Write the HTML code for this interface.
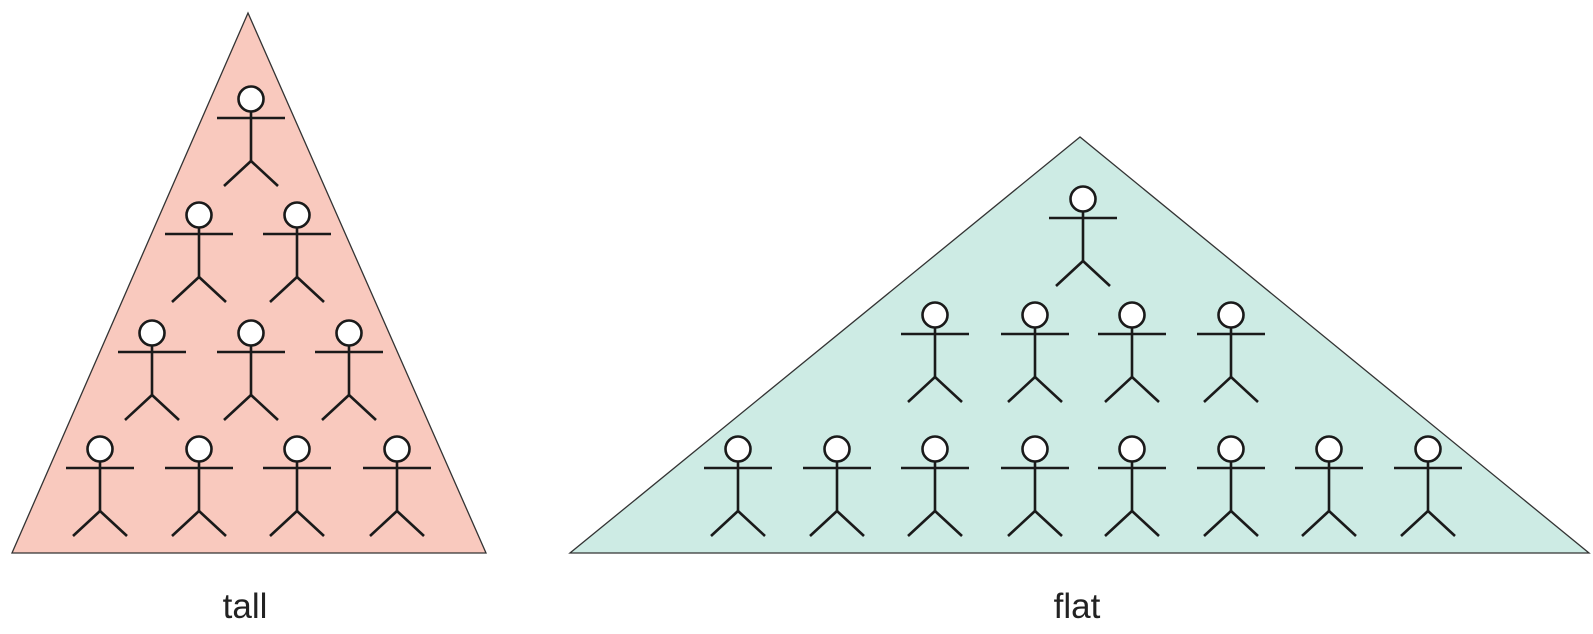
<!DOCTYPE html>
<html><head><meta charset="utf-8"><style>
html,body{margin:0;padding:0;background:#fff;}
svg{display:block;}
text{font-family:"Liberation Sans","DejaVu Sans",sans-serif;font-size:35px;fill:#222;}
</style></head><body>
<svg width="1593" height="634" viewBox="0 0 1593 634" xmlns="http://www.w3.org/2000/svg">
<defs>
<g id="p" stroke="#1a1a1a" stroke-width="2.6" fill="none">
<circle cx="0" cy="0" r="12.5" fill="#fff"/>
<line x1="-34" y1="19" x2="34" y2="19"/>
<line x1="0" y1="12.5" x2="0" y2="62"/>
<line x1="0" y1="62" x2="-27" y2="87"/>
<line x1="0" y1="62" x2="27" y2="87"/>
</g>
</defs>
<polygon points="248,13 12,553 486,553" fill="#f9c9be" stroke="#333" stroke-width="1.3"/>
<polygon points="1080,137 570,553 1589,553" fill="#cdebe4" stroke="#333" stroke-width="1.3"/>
<use href="#p" x="251" y="99"/>
<use href="#p" x="199" y="215"/><use href="#p" x="297" y="215"/>
<use href="#p" x="152" y="333"/><use href="#p" x="251" y="333"/><use href="#p" x="349" y="333"/>
<use href="#p" x="100" y="449"/><use href="#p" x="199" y="449"/><use href="#p" x="297" y="449"/><use href="#p" x="397" y="449"/>
<use href="#p" x="1083" y="199"/>
<use href="#p" x="935" y="315"/><use href="#p" x="1035" y="315"/><use href="#p" x="1132" y="315"/><use href="#p" x="1231" y="315"/>
<use href="#p" x="738" y="449"/><use href="#p" x="837" y="449"/><use href="#p" x="935" y="449"/><use href="#p" x="1035" y="449"/>
<use href="#p" x="1132" y="449"/><use href="#p" x="1231" y="449"/><use href="#p" x="1329" y="449"/><use href="#p" x="1428" y="449"/>
<text x="245" y="618" text-anchor="middle">tall</text>
<text x="1077" y="618" text-anchor="middle">flat</text>
</svg>
</body></html>
